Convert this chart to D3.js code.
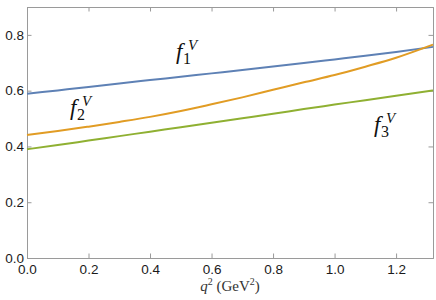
<!DOCTYPE html>
<html>
<head>
<meta charset="utf-8">
<script src="https://cdn.jsdelivr.net/npm/d3@7"></script>
<style>
  body { margin: 0; background: #fff; }
  svg { display: block; }
  .tick text { font-family: "Liberation Sans", Arial, sans-serif; }
  .serif { font-family: "Liberation Serif", "Times New Roman", serif; }
</style>
</head>
<body>
<svg id="chart" width="436" height="300"></svg>
<script>
// q^2 sample points and the three form factors
const q2 = [0, 0.1, 0.2, 0.3, 0.4, 0.5, 0.6, 0.7, 0.8, 0.9, 1.0, 1.1, 1.2, 1.32];
const f1 = [0.589, 0.601, 0.613, 0.626, 0.638, 0.650, 0.662, 0.674, 0.687, 0.699, 0.712, 0.725, 0.739, 0.757];
const f2 = [0.441, 0.455, 0.471, 0.488, 0.506, 0.527, 0.551, 0.576, 0.603, 0.630, 0.656, 0.686, 0.718, 0.765];
const f3 = [0.390, 0.405, 0.421, 0.437, 0.453, 0.469, 0.485, 0.501, 0.517, 0.534, 0.550, 0.566, 0.582, 0.601];

const seriesNames = ["1", "2", "3"];
const colors = ["#5e81b5", "#e19c24", "#8fb032"];
const xTicks = [0.0, 0.2, 0.4, 0.6, 0.8, 1.0, 1.2];
const yTicks = [0.0, 0.2, 0.4, 0.6, 0.8];

const width = 436, height = 300;
const margin = {top: 7, right: 3, bottom: 42, left: 27};

const svg = d3.select("#chart");

const x = d3.scaleLinear().domain([0, 1.32]).range([margin.left, width - margin.right]);
const y = d3.scaleLinear().domain([0, 0.9]).range([height - margin.bottom, margin.top]);

const frameColor = "#9a9a9a";
const minorX = d3.range(0, 1.32, 0.05);
const minorY = d3.range(0, 0.9, 0.05);

// frame axes, Mathematica-like: ticks pointing inward
function frameAxis(axisFn, scale, major, minor, labels, transform) {
  const g = svg.append("g").attr("transform", transform);
  g.call(axisFn(scale).tickValues(minor).tickSize(-2.5).tickFormat(""));
  g.call(axisFn(scale).tickValues(major).tickSize(-4.5)
    .tickFormat(labels ? d3.format(".1f") : ""));
  g.selectAll("line,path").attr("stroke", frameColor);
  g.attr("font-family", null);
  g.selectAll("text")
    .attr("font-size", 13.5)
    .attr("fill", "#1a1a1a");
  return g;
}

const plotBottom = height - margin.bottom;
const plotRight = width - margin.right;

const gx = frameAxis(d3.axisBottom, x, xTicks, minorX, true, `translate(0,${plotBottom})`);
gx.selectAll("text").attr("y", 4).attr("dy", "0.9em");
frameAxis(d3.axisTop, x, xTicks, minorX, false, `translate(0,${margin.top})`);
const gy = frameAxis(d3.axisLeft, y, yTicks, minorY, true, `translate(${margin.left},0)`);
gy.selectAll("text").attr("x", -3);
frameAxis(d3.axisRight, y, yTicks, minorY, false, `translate(${plotRight},0)`);

const line = d3.line()
  .x((d, i) => x(q2[i]))
  .y(d => y(d))
  .curve(d3.curveMonotoneX);

[f1, f2, f3].forEach((s, i) => {
  svg.append("path")
    .datum(s)
    .attr("fill", "none")
    .attr("stroke", colors[i])
    .attr("stroke-width", 2)
    .attr("d", line);
});

// curve labels: italic f, upright subscript index, italic superscript V
const labelPos = [[176, 59], [70, 115], [374, 132]];
labelPos.forEach((p, i) => {
  const g = svg.append("g").attr("class", "serif").attr("fill", "#111");
  g.append("text").attr("x", p[0]).attr("y", p[1])
    .attr("font-size", 23).attr("font-style", "italic").text("f");
  g.append("text").attr("x", p[0] + 7).attr("y", p[1] + 5)
    .attr("font-size", 16).text(seriesNames[i]);
  g.append("text").attr("x", p[0] + 12).attr("y", p[1] - 9)
    .attr("font-size", 15).attr("font-style", "italic").text("V");
});

// x axis title
const title = svg.append("text")
  .attr("class", "serif")
  .attr("x", x(0.66)).attr("y", 291)
  .attr("text-anchor", "middle")
  .attr("font-size", 15)
  .attr("fill", "#333");
title.append("tspan").attr("font-style", "italic").text("q");
title.append("tspan").attr("font-size", 10).attr("dy", -6).text("2");
title.append("tspan").attr("dy", 6).text(" (GeV");
title.append("tspan").attr("font-size", 10).attr("dy", -6).text("2");
title.append("tspan").attr("dy", 6).text(")");
</script>
</body>
</html>
